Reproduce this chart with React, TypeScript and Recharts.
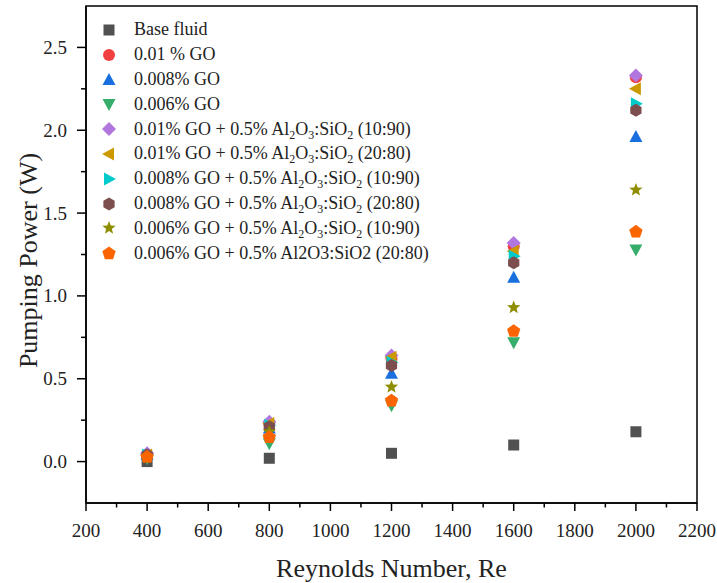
import React from 'react';
import { ScatterChart, Scatter, XAxis, YAxis, ReferenceArea, Legend } from 'recharts';

const reynolds = [400, 800, 1200, 1600, 2000];

const baseFluid = [0.0, 0.02, 0.05, 0.1, 0.18];
const go010 = [0.04, 0.23, 0.62, 1.3, 2.32];
const go008 = [0.04, 0.2, 0.53, 1.11, 1.96];
const go006 = [0.02, 0.11, 0.34, 0.72, 1.28];
const go010Al1090 = [0.05, 0.24, 0.64, 1.32, 2.33];
const go010Al2080 = [0.04, 0.23, 0.63, 1.27, 2.25];
const go008Al1090 = [0.04, 0.22, 0.6, 1.24, 2.16];
const go008Al2080 = [0.04, 0.21, 0.58, 1.2, 2.12];
const go006Al1090 = [0.03, 0.18, 0.45, 0.93, 1.64];
const go006Al2080 = [0.03, 0.15, 0.37, 0.79, 1.39];

const xTicks = [200, 300, 400, 500, 600, 700, 800, 900, 1000, 1100, 1200, 1300, 1400, 1500, 1600, 1700, 1800, 1900, 2000, 2100, 2200];
const yTicks = [0, 0.25, 0.5, 0.75, 1.0, 1.25, 1.5, 1.75, 2.0, 2.25, 2.5];

const FONT = '"Liberation Serif", "Times New Roman", serif';

type Kind = 'square' | 'circle' | 'up' | 'down' | 'diamond' | 'left' | 'right' | 'hexagon' | 'star' | 'pentagon';

const polygon = (n: number, r: number, start: number, cx: number, cy: number) =>
  Array.from({ length: n }, (_, i) => {
    const a = start + (i * 2 * Math.PI) / n;
    return `${cx + r * Math.cos(a)},${cy + r * Math.sin(a)}`;
  }).join(' ');

const starPoints = (cx: number, cy: number, ro: number, ri: number) =>
  Array.from({ length: 10 }, (_, i) => {
    const r = i % 2 === 0 ? ro : ri;
    const a = -Math.PI / 2 + (i * Math.PI) / 5;
    return `${cx + r * Math.cos(a)},${cy + r * Math.sin(a)}`;
  }).join(' ');

const Marker = ({ kind, cx, cy, fill }: { kind: Kind; cx: number; cy: number; fill: string }) => {
  switch (kind) {
    case 'square':
      return <rect x={cx - 5.5} y={cy - 5.5} width={11} height={11} fill={fill} />;
    case 'circle':
      return <circle cx={cx} cy={cy} r={6} fill={fill} />;
    case 'up':
      return <polygon points={`${cx},${cy - 7} ${cx + 6.5},${cy + 5} ${cx - 6.5},${cy + 5}`} fill={fill} />;
    case 'down':
      return <polygon points={`${cx},${cy + 7} ${cx + 6.5},${cy - 5} ${cx - 6.5},${cy - 5}`} fill={fill} />;
    case 'diamond':
      return <polygon points={`${cx},${cy - 7} ${cx + 7},${cy} ${cx},${cy + 7} ${cx - 7},${cy}`} fill={fill} />;
    case 'left':
      return <polygon points={`${cx - 7},${cy} ${cx + 5},${cy - 6.5} ${cx + 5},${cy + 6.5}`} fill={fill} />;
    case 'right':
      return <polygon points={`${cx + 7},${cy} ${cx - 5},${cy - 6.5} ${cx - 5},${cy + 6.5}`} fill={fill} />;
    case 'hexagon':
      return <polygon points={polygon(6, 6.5, -Math.PI / 2, cx, cy)} fill={fill} />;
    case 'star':
      return <polygon points={starPoints(cx, cy, 7, 3)} fill={fill} />;
    case 'pentagon':
      return <polygon points={polygon(5, 7, -Math.PI / 2, cx, cy + 0.5)} fill={fill} />;
    default:
      return null;
  }
};

const Sub = ({ children }: { children: React.ReactNode }) => (
  <sub style={{ fontSize: 12, verticalAlign: -4, lineHeight: 0 }}>{children}</sub>
);

const alsi = (
  <>
    Al<Sub>2</Sub>O<Sub>3</Sub>:SiO<Sub>2</Sub>
  </>
);

const series: { key: string; values: number[]; color: string; kind: Kind; label: React.ReactNode }[] = [
  { key: 'base', values: baseFluid, color: '#515151', kind: 'square', label: 'Base fluid' },
  { key: 'go010', values: go010, color: '#F14040', kind: 'circle', label: '0.01 % GO' },
  { key: 'go008', values: go008, color: '#1A6FDF', kind: 'up', label: '0.008% GO' },
  { key: 'go006', values: go006, color: '#37AD6B', kind: 'down', label: '0.006% GO' },
  { key: 'go010a', values: go010Al1090, color: '#B177DE', kind: 'diamond', label: <>0.01% GO + 0.5% {alsi} (10:90)</> },
  { key: 'go010b', values: go010Al2080, color: '#CC9900', kind: 'left', label: <>0.01% GO + 0.5% {alsi} (20:80)</> },
  { key: 'go008a', values: go008Al1090, color: '#00CBCC', kind: 'right', label: <>0.008% GO + 0.5% {alsi} (10:90)</> },
  { key: 'go008b', values: go008Al2080, color: '#7D4E4E', kind: 'hexagon', label: <>0.008% GO + 0.5% {alsi} (20:80)</> },
  { key: 'go006a', values: go006Al1090, color: '#8E8E00', kind: 'star', label: <>0.006% GO + 0.5% {alsi} (10:90)</> },
  { key: 'go006b', values: go006Al2080, color: '#FB6501', kind: 'pentagon', label: '0.006% GO + 0.5% Al2O3:SiO2 (20:80)' },
];

const XTick = (props: any) => {
  const { x, y, payload } = props;
  const major = payload.value % 200 === 0;
  return (
    <g>
      <line x1={x} y1={y} x2={x} y2={y + (major ? 8 : 4.5)} stroke="#000" strokeWidth={1.5} />
      {major && (
        <text x={x} y={y + 34} textAnchor="middle" fontFamily={FONT} fontSize={19} fill="#222">
          {payload.value}
        </text>
      )}
    </g>
  );
};

const YTick = (props: any) => {
  const { x, y, payload } = props;
  const major = Math.abs((payload.value * 2) % 1) < 1e-6;
  return (
    <g>
      <line x1={x} y1={y} x2={x - (major ? 9 : 5)} y2={y} stroke="#000" strokeWidth={1.5} />
      {major && (
        <text x={x - 19} y={y + 6.5} textAnchor="end" fontFamily={FONT} fontSize={19} fill="#222">
          {payload.value.toFixed(1)}
        </text>
      )}
    </g>
  );
};

const YLabel = (props: any) => {
  const { viewBox } = props;
  const cx = viewBox.x + 37;
  const cy = viewBox.y + viewBox.height / 2 + 6;
  return (
    <text x={cx} y={cy} transform={`rotate(-90, ${cx}, ${cy})`} textAnchor="middle" fontFamily={FONT} fontSize={26} fill="#222">
      Pumping Power (W)
    </text>
  );
};

const XLabel = (props: any) => {
  const { viewBox } = props;
  const cx = viewBox.x + viewBox.width / 2;
  return (
    <text x={cx} y={viewBox.y + 74} textAnchor="middle" fontFamily={FONT} fontSize={26} fill="#222">
      Reynolds Number, Re
    </text>
  );
};

const renderLegend = () => (
  <div style={{ fontFamily: FONT, fontSize: 18, color: '#222' }}>
    {series.map((s) => (
      <div key={s.key} style={{ display: 'flex', alignItems: 'center', height: 24.8, whiteSpace: 'nowrap' }}>
        <svg width={16} height={16} style={{ marginRight: 17, flexShrink: 0 }}>
          <Marker kind={s.kind} cx={8} cy={8} fill={s.color} />
        </svg>
        <span>{s.label}</span>
      </div>
    ))}
  </div>
);

export default function App() {
  return (
    <div style={{ position: 'absolute', left: 0, top: 0, width: 717, height: 583, background: '#fff' }}>
      <ScatterChart width={717} height={583} margin={{ top: 6, right: 20, bottom: 0, left: 0 }}>
        <XAxis
          type="number"
          dataKey="x"
          domain={[200, 2200]}
          ticks={xTicks}
          interval={0}
          tick={<XTick />}
          tickLine={false}
          tickSize={0}
          tickMargin={0}
          height={80}
          axisLine={{ stroke: '#000', strokeWidth: 1.5 }}
          label={<XLabel />}
        />
        <YAxis
          type="number"
          dataKey="y"
          domain={[-0.25, 2.75]}
          ticks={yTicks}
          interval={0}
          tick={<YTick />}
          tickLine={false}
          tickSize={0}
          tickMargin={0}
          width={86}
          axisLine={{ stroke: '#000', strokeWidth: 1.5 }}
          label={<YLabel />}
        />
        <ReferenceArea x1={200} x2={2200} y1={-0.25} y2={2.75} fill="none" stroke="#000" strokeWidth={1.5} ifOverflow="visible" />
        <Legend
          layout="vertical"
          verticalAlign="middle"
          align="center"
          content={renderLegend}
          wrapperStyle={{ left: 101, top: 17.6, width: 'auto' }}
        />
        {series.map((s) => (
          <Scatter
            key={s.key}
            name={s.key}
            data={reynolds.map((x, i) => ({ x, y: s.values[i] }))}
            fill={s.color}
            isAnimationActive={false}
            shape={(p: any) => <Marker kind={s.kind} cx={p.cx} cy={p.cy} fill={s.color} />}
          />
        ))}
      </ScatterChart>
    </div>
  );
}
